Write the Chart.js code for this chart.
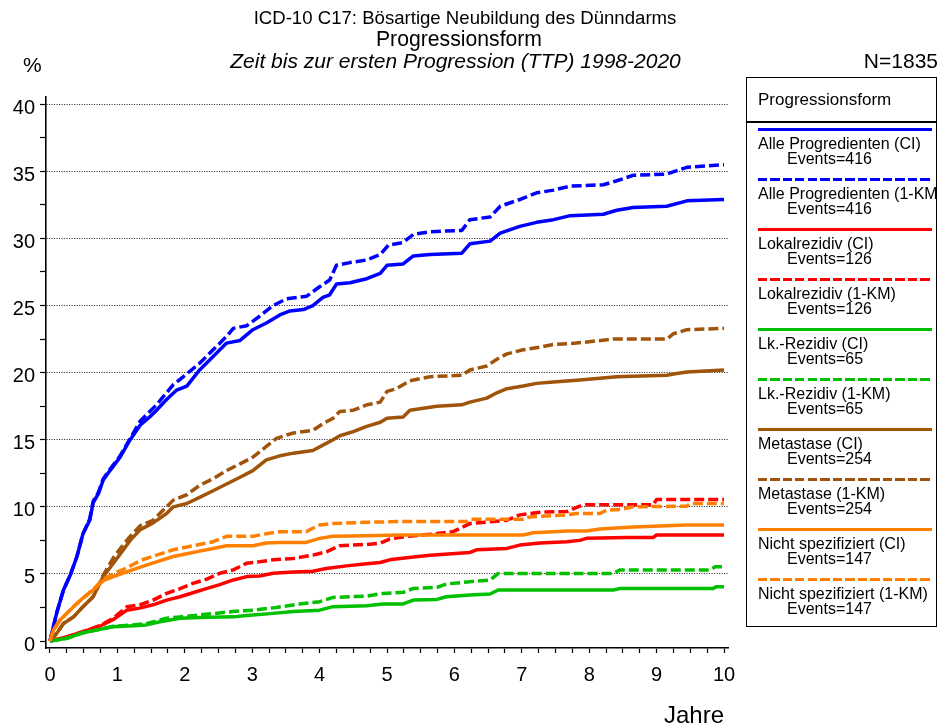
<!DOCTYPE html>
<html>
<head>
<meta charset="utf-8">
<script src="https://cdn.jsdelivr.net/npm/chart.js@4/dist/chart.umd.min.js"></script>
<style>
  html, body { margin: 0; padding: 0; background: #fff; }
  #wrap { position: relative; width: 941px; height: 726px; overflow: hidden; font-family: "Liberation Sans", Arial, sans-serif; color: #000; }
  #c { position: absolute; left: 0; top: 0; }
  .t { position: absolute; line-height: 1; white-space: nowrap; }
  #legend { position: absolute; left: 746px; top: 77px; width: 191px; height: 550px; border: 1.5px solid #000; overflow: hidden; box-sizing: border-box; }
  .lline { position: absolute; height: 3px; }
</style>
</head>
<body>
<div id="wrap">
  <canvas id="c" width="941" height="726"></canvas>
  <div id="legend"></div>
</div>
<script>
// ---- Data (years since diagnosis, cumulative % progressed) ----
const xTicks = [0,1,2,3,4,5,6,7,8,9,10];
const yTicks = [0,5,10,15,20,25,30,35,40];

const alleCI_t = [0,0.1,0.2,0.3,0.4,0.49,0.59,0.64,0.72,0.79,0.89,1.04,1.19,1.34,1.48,1.58,1.73,1.88,2.03,2.22,2.42,2.62,2.82,3.01,3.21,3.41,3.56,3.76,3.9,4.05,4.15,4.25,4.45,4.7,4.9,5.0,5.24,5.39,5.64,6.11,6.23,6.53,6.68,6.97,7.22,7.47,7.72,8.21,8.41,8.65,9.15,9.45,10.0];
const alleCI_v = [0,2.1,3.8,4.9,6.3,8.0,9.0,10.3,11.0,12.0,12.7,13.7,15.0,16.1,16.7,17.2,18.0,18.7,19.0,20.2,21.2,22.2,22.4,23.2,23.7,24.3,24.6,24.7,25.0,25.6,25.8,26.6,26.7,27.0,27.4,28.0,28.1,28.7,28.8,28.9,29.6,29.8,30.4,30.9,31.2,31.4,31.7,31.8,32.1,32.3,32.4,32.8,32.9];

const alleKM_t = [0,0.1,0.2,0.3,0.4,0.49,0.59,0.64,0.72,0.79,0.89,1.04,1.19,1.34,1.58,1.83,1.98,2.22,2.42,2.62,2.72,2.92,3.11,3.31,3.51,3.81,4.0,4.15,4.25,4.45,4.7,4.9,5.02,5.24,5.39,5.64,6.11,6.23,6.53,6.68,6.97,7.22,7.47,7.72,8.21,8.41,8.65,9.15,9.45,10.0];
const alleKM_v = [0,2.1,3.8,4.9,6.3,8.0,9.1,10.4,11.1,12.1,12.8,13.8,15.1,16.4,17.6,19.1,19.7,20.7,21.7,22.7,23.3,23.5,24.2,25.0,25.5,25.7,26.4,26.9,28.0,28.2,28.4,28.8,29.5,29.7,30.3,30.5,30.6,31.4,31.6,32.4,32.9,33.4,33.6,33.9,34.0,34.3,34.7,34.8,35.3,35.5];

const lokalCI_t = [0,0.05,0.25,0.49,0.74,0.94,1.14,1.33,1.53,1.73,1.93,2.12,2.32,2.52,2.72,2.92,3.11,3.31,3.61,3.9,4.1,4.4,4.7,4.9,5.04,5.29,5.64,6.23,6.33,6.78,6.97,7.27,7.67,7.86,7.96,8.56,8.95,9.0,10.0];
const lokalCI_v = [0,0.07,0.3,0.7,1.1,1.6,2.3,2.45,2.7,3.05,3.3,3.6,3.9,4.2,4.55,4.8,4.85,5.05,5.15,5.2,5.4,5.6,5.75,5.85,6.05,6.2,6.4,6.6,6.8,6.9,7.15,7.3,7.4,7.5,7.65,7.72,7.72,7.9,7.9];

const lokalKM_t = [0,0.05,0.25,0.49,0.74,0.94,1.14,1.33,1.53,1.73,1.93,2.12,2.32,2.52,2.72,2.92,3.11,3.31,3.61,3.9,4.1,4.3,4.7,4.9,5.04,5.29,5.64,5.98,6.23,6.78,6.97,7.27,7.67,7.86,7.96,8.95,9.0,10.0];
const lokalKM_v = [0,0.07,0.3,0.7,1.15,1.7,2.55,2.7,3.05,3.55,3.9,4.3,4.6,5.05,5.3,5.8,5.9,6.05,6.15,6.4,6.65,7.1,7.2,7.3,7.6,7.8,7.95,8.15,8.75,9.0,9.4,9.6,9.65,10.05,10.15,10.15,10.55,10.55];

const lkCI_t = [0,0.05,0.25,0.49,0.74,0.94,1.24,1.43,1.63,1.93,2.22,2.72,2.92,3.31,3.61,4.0,4.2,4.7,4.94,5.24,5.39,5.74,5.88,6.23,6.53,6.65,8.36,8.46,9.84,9.89,10.0];
const lkCI_v = [0,0.03,0.2,0.62,0.87,1.07,1.14,1.2,1.44,1.7,1.76,1.8,1.9,2.06,2.2,2.3,2.56,2.63,2.76,2.76,3.05,3.1,3.3,3.43,3.5,3.8,3.8,3.92,3.92,4.05,4.05];

const lkKM_t = [0,0.05,0.25,0.49,0.74,0.94,1.24,1.43,1.73,1.93,2.22,2.72,3.01,3.36,3.7,4.0,4.2,4.7,4.94,5.24,5.39,5.74,5.88,6.23,6.53,6.65,8.36,8.46,9.79,9.87,10.0];
const lkKM_v = [0,0.03,0.2,0.62,0.88,1.1,1.2,1.3,1.7,1.8,1.94,2.2,2.3,2.5,2.76,2.93,3.25,3.35,3.55,3.63,3.92,4.0,4.25,4.42,4.55,5.04,5.04,5.3,5.3,5.54,5.54];

const metaCI_t = [0,0.1,0.2,0.35,0.49,0.64,0.79,0.94,1.09,1.19,1.34,1.53,1.73,1.83,2.03,2.22,2.42,2.62,2.82,3.01,3.21,3.41,3.61,3.9,4.05,4.2,4.3,4.5,4.7,4.9,5.0,5.24,5.34,5.74,6.11,6.23,6.48,6.63,6.78,7.02,7.22,7.47,7.86,8.41,9.15,9.25,9.45,10.0];
const metaCI_v = [0,0.57,1.3,1.8,2.56,3.3,4.8,5.8,6.8,7.5,8.3,8.8,9.5,10.0,10.25,10.7,11.2,11.7,12.2,12.7,13.5,13.8,14.0,14.2,14.6,15.0,15.3,15.6,16.0,16.3,16.6,16.7,17.2,17.5,17.6,17.8,18.1,18.5,18.8,19.0,19.2,19.3,19.45,19.7,19.8,19.9,20.05,20.2];

const metaKM_t = [0,0.1,0.2,0.35,0.49,0.64,0.79,0.94,1.09,1.19,1.34,1.53,1.73,1.83,2.03,2.22,2.42,2.62,2.82,3.01,3.21,3.36,3.61,3.9,4.05,4.2,4.3,4.5,4.7,4.9,5.0,5.14,5.34,5.64,6.11,6.23,6.48,6.63,6.78,7.02,7.27,7.47,7.81,8.36,9.15,9.25,9.45,10.0];
const metaKM_v = [0,0.57,1.3,1.8,2.56,3.3,4.9,6.2,7.2,7.8,8.6,9.0,10.0,10.5,10.9,11.6,12.1,12.7,13.2,13.7,14.5,15.1,15.5,15.7,16.2,16.6,17.1,17.2,17.6,17.8,18.6,18.8,19.4,19.7,19.8,20.2,20.5,21.0,21.4,21.7,21.9,22.1,22.2,22.5,22.5,22.9,23.2,23.3];

const nsCI_t = [0,0.05,0.15,0.25,0.35,0.49,0.64,0.79,0.94,1.14,1.34,1.58,1.83,2.03,2.22,2.42,2.62,3.01,3.21,3.41,3.8,4.0,4.2,4.7,5.19,7.02,7.17,7.67,7.96,8.16,8.65,9.45,10.0];
const nsCI_v = [0,0.8,1.56,2.06,2.56,3.2,3.8,4.5,4.8,5.15,5.5,5.9,6.3,6.5,6.7,6.9,7.1,7.1,7.3,7.35,7.35,7.65,7.8,7.85,7.9,7.9,8.07,8.2,8.2,8.35,8.5,8.65,8.65];

const nsKM_t = [0,0.05,0.15,0.25,0.35,0.49,0.64,0.79,0.94,1.14,1.34,1.58,1.83,2.03,2.42,2.62,3.01,3.21,3.41,3.8,4.0,4.2,4.7,5.19,6.18,6.23,7.02,7.12,7.67,7.81,8.16,8.26,8.46,8.65,9.45,9.5,10.0];
const nsKM_v = [0,0.8,1.56,2.06,2.56,3.2,3.85,4.6,5.0,5.45,6.0,6.4,6.8,7.0,7.4,7.8,7.8,8.0,8.15,8.15,8.65,8.75,8.85,8.9,8.9,9.07,9.07,9.25,9.4,9.5,9.5,9.76,9.8,10.0,10.05,10.25,10.25];

const seriesNames = ["Alle Progredienten (CI)","Alle Progredienten (1-KM)","Lokalrezidiv (CI)","Lokalrezidiv (1-KM)","Lk.-Rezidiv (CI)","Lk.-Rezidiv (1-KM)","Metastase (CI)","Metastase (1-KM)","Nicht spezifiziert (CI)","Nicht spezifiziert (1-KM)"];
const seriesEvents = [416,416,126,126,65,65,254,254,147,147];

// ---- styling ----
const FONT = '"Liberation Sans", Arial, sans-serif';
const colors = ['#0000FF','#0000FF','#FF0000','#FF0000','#00C000','#00C000','#A0540A','#A0540A','#FF8000','#FF8000'];
const series = [
  [alleCI_t, alleCI_v],[alleKM_t, alleKM_v],
  [lokalCI_t, lokalCI_v],[lokalKM_t, lokalKM_v],
  [lkCI_t, lkCI_v],[lkKM_t, lkKM_v],
  [metaCI_t, metaCI_v],[metaKM_t, metaKM_v],
  [nsCI_t, nsCI_v],[nsKM_t, nsKM_v]
];

const datasets = series.map(([t, v], i) => ({
  label: seriesNames[i],
  data: t.map((x, k) => ({x: x, y: v[k]})),
  showLine: true,
  borderColor: colors[i],
  backgroundColor: colors[i],
  borderWidth: 3.5,
  borderDash: (i % 2 === 1) ? [10, 4] : [],
  borderCapStyle: 'butt',
  borderJoinStyle: 'round',
  pointRadius: 0,
  tension: 0,
  fill: false,
  order: 10 - i
}));

const range = (a, b, s) => { const r = []; for (let v = a; v <= b + 1e-9; v += s) r.push(Math.round(v * 1000) / 1000); return r; };

new Chart(document.getElementById('c'), {
  type: 'scatter',
  data: { datasets },
  options: {
    responsive: false,
    animation: false,
    devicePixelRatio: 1,
    layout: { padding: { left: 0, right: 213, top: 97, bottom: 0 } },
    plugins: { legend: { display: false }, tooltip: { enabled: false }, title: { display: false } },
    scales: {
      x: {
        type: 'linear',
        min: -0.059, max: 10.059,
        afterBuildTicks: (s) => { s.ticks = range(0, 10, 0.25).map(v => ({value: v})); },
        afterFit: (s) => { s.height = 78; },
        ticks: {
          autoSkip: false, maxRotation: 0, minRotation: 0,
          padding: 10, color: '#000',
          font: { family: FONT, size: 20 },
          callback: (v) => (xTicks.includes(v) ? String(v) : '')
        },
        grid: { drawOnChartArea: false, drawTicks: true, tickLength: 5, tickColor: '#000', tickWidth: 1.2 },
        border: { display: true, color: '#000', width: 1.6 }
      },
      y: {
        type: 'linear',
        min: -0.52, max: 40.54,
        afterBuildTicks: (s) => { s.ticks = range(0, 40, 2.5).map(v => ({value: v})); },
        afterFit: (s) => { s.width = 46; },
        ticks: {
          autoSkip: false, padding: 5, color: '#000', labelOffset: 4,
          font: { family: FONT, size: 20 },
          callback: (v) => (yTicks.includes(v) ? String(v) : '')
        },
        grid: {
          drawTicks: true, tickLength: 6, tickColor: '#000', tickWidth: 1.2, tickBorderDash: [],
          lineWidth: 1,
          color: (ctx) => (ctx.tick && yTicks.includes(ctx.tick.value) && ctx.tick.value !== 0) ? '#222' : 'rgba(0,0,0,0)'
        },
        border: { display: true, color: '#000', width: 1.6, dash: [1, 1.5] }
      }
    }
  }
});

// ---- text (HTML) ----
const wrap = document.getElementById('wrap');
function addText(parent, txt, size, baseline, opts) {
  const d = document.createElement('div');
  d.className = 't';
  d.textContent = txt;
  d.style.fontSize = size + 'px';
  d.style.top = (baseline - 0.8465 * size) + 'px';
  if (opts.italic) d.style.fontStyle = 'italic';
  if (opts.center !== undefined) { d.style.left = (opts.center - 400) + 'px'; d.style.width = '800px'; d.style.textAlign = 'center'; }
  else if (opts.right !== undefined) { d.style.right = (941 - opts.right) + 'px'; d.style.textAlign = 'right'; }
  else d.style.left = opts.left + 'px';
  parent.appendChild(d);
  return d;
}
addText(wrap, 'ICD-10 C17: Bösartige Neubildung des Dünndarms', 18.6, 25, {center: 465});
addText(wrap, 'Progressionsform', 21.2, 46, {center: 459});
addText(wrap, 'Zeit bis zur ersten Progression (TTP) 1998-2020', 21, 67.5, {center: 455.5, italic: true});
addText(wrap, '%', 21, 72, {left: 23});
addText(wrap, 'N=1835', 21, 68, {right: 938});
addText(wrap, 'Jahre', 24, 723, {right: 724});

// legend
const lg = document.getElementById('legend');
const LX = 746, LY = 77;
addText(lg, 'Progressionsform', 17, 104.3 - LY, {left: 757 - LX});
const sep = document.createElement('div');
sep.style.cssText = 'position:absolute;left:0;right:0;height:1.5px;background:#000;top:' + (120 - LY) + 'px';
lg.appendChild(sep);
seriesNames.forEach((name, i) => {
  const ly = 128.3 + 50 * i;
  const ln = document.createElement('div');
  ln.className = 'lline';
  ln.style.left = (757 - LX) + 'px';
  ln.style.width = '174px';
  ln.style.top = (ly - 1.5 - LY) + 'px';
  if (i % 2 === 1) ln.style.background = 'repeating-linear-gradient(90deg,' + colors[i] + ' 0 9px, transparent 9px 12.5px)';
  else ln.style.background = colors[i];
  lg.appendChild(ln);
  addText(lg, name, 16, ly + 20.7 - LY, {left: 757 - LX});
  addText(lg, 'Events=' + seriesEvents[i], 16, ly + 35 - LY, {left: 786 - LX});
});
</script>
</body>
</html>
